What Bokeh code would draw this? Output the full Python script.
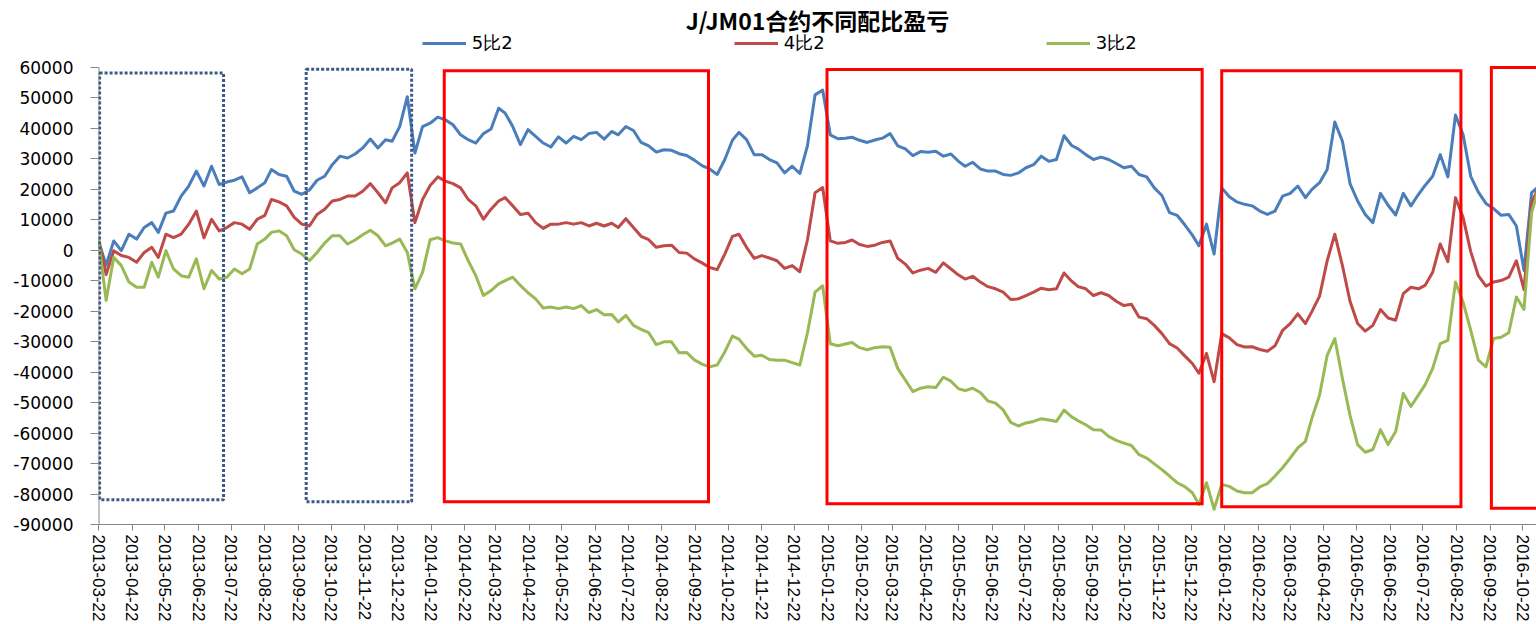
import pandas as pd
from bokeh.embed import file_html
from bokeh.models import (ColumnDataSource, DatetimeTickFormatter, FixedTicker,
                          Label, Legend, LegendItem, NumeralTickFormatter, Range1d)
from bokeh.plotting import figure
from bokeh.resources import INLINE

# ---- data -------------------------------------------------------------
start_date = "2013-03-22"

# sampling days, counted from start_date
day_offset = [
    0, 7, 14, 21, 28, 35, 42, 49, 55, 62,
    69, 76, 83, 90, 97, 104, 111, 118, 125, 132,
    139, 146, 153, 159, 166, 173, 180, 187, 194, 201,
    208, 215, 222, 229, 236, 243, 250, 257, 264, 270,
    277, 284, 291, 298, 305, 312, 319, 326, 333, 340,
    347, 354, 361, 368, 374, 381, 388, 395, 402, 409,
    416, 423, 430, 437, 444, 451, 458, 465, 472, 478,
    485, 492, 499, 506, 513, 520, 527, 534, 541, 548,
    555, 562, 569, 576, 583, 589, 596, 603, 610, 617,
    624, 631, 638, 645, 652, 659, 666, 673, 680, 687,
    693, 700, 707, 714, 721, 728, 735, 742, 749, 756,
    763, 770, 777, 784, 791, 797, 804, 811, 818, 825,
    832, 839, 846, 853, 860, 867, 874, 881, 888, 895,
    901, 908, 915, 922, 929, 936, 943, 950, 957, 964,
    971, 978, 985, 992, 999, 1006, 1012, 1019, 1026, 1033,
    1040, 1047, 1054, 1061, 1068, 1075, 1082, 1089, 1096, 1103,
    1110, 1116, 1123, 1130, 1137, 1144, 1151, 1158, 1165, 1172,
    1179, 1186, 1193, 1200, 1207, 1214, 1220, 1227, 1234, 1241,
    1248, 1255, 1262, 1269, 1276, 1283, 1290, 1297, 1304, 1311,
    1318, 1325,
]

# profit / loss of the 5:2 mix
pnl_5to2 = [
    3000, -5000, 3000, -200, 5200, 3600, 7400, 9000, 5800, 12100,
    12800, 17700, 21000, 25900, 21000, 27500, 21500, 22300, 22900, 24000,
    18800, 20400, 22100, 26400, 24800, 24200, 19300, 18300, 19700, 22900,
    24200, 28000, 30800, 30200, 31500, 33500, 36400, 33500, 36200, 35700,
    40500, 50300, 31800, 40500, 41600, 43600, 42700, 41100, 37800, 36200,
    35100, 38200, 39700, 46500, 44900, 40500, 34600, 39500, 37300, 35100,
    33800, 37100, 35100, 37300, 36200, 38200, 38600, 36400, 38900, 37800,
    40500, 39200, 35300, 34200, 32100, 32900, 32700, 31600, 31000, 29500,
    27700, 26600, 24800, 29700, 36000, 38600, 36200, 31300, 31300, 29700,
    28600, 25300, 27500, 25100, 34200, 50900, 52500, 37800, 36500, 36700,
    37000, 36000, 35300, 36100, 36700, 38200, 34200, 33200, 31000, 32300,
    32100, 32400, 30800, 31500, 29100, 27500, 28800, 26600, 25900, 25900,
    24800, 24500, 25300, 27000, 28000, 30800, 29100, 29700, 37500, 34300,
    33200, 31300, 29700, 30500, 29700, 28400, 27000, 27500, 24800, 24000,
    20400, 17900, 12300, 11400, 8300, 4900, 1400, 8500, -1300, 20400,
    17500, 15800, 15000, 14500, 12800, 11700, 12800, 17700, 18600, 21000,
    17200, 19900, 22100, 26400, 42000, 35700, 21800, 16100, 11700, 9000,
    18600, 14700, 11500, 18600, 14500, 18300, 21200, 24200, 31300, 24000,
    44300, 37800, 24200, 19000, 15300, 13600, 11400, 11700, 7900, -6700,
    18800, 21000,
]

# profit / loss of the 4:2 mix
pnl_4to2 = [
    3500, -8000, -200, -1800, -2400, -4000, -800, 900, -2400, 5200,
    4100, 5200, 8500, 12800, 4000, 10100, 6300, 7400, 9000, 8500,
    6800, 10100, 11400, 16600, 15800, 14500, 10700, 8500, 7900, 11700,
    13400, 16100, 16600, 17700, 17700, 19300, 21800, 18800, 15500, 20400,
    22100, 25300, 9000, 16600, 21200, 24000, 22600, 21800, 20400, 16600,
    14500, 10100, 13400, 16100, 17200, 14500, 11700, 12100, 9000, 7100,
    8500, 8500, 9000, 8500, 9000, 7900, 8800, 7900, 8800, 7400,
    10300, 7400, 4500, 3400, 900, 1400, 1600, -800, -1000, -2900,
    -4200, -5700, -6400, -1300, 4500, 5200, 900, -2700, -1800, -2600,
    -3500, -6000, -5100, -7100, 3300, 18800, 20500, 3000, 2200, 2500,
    3300, 1800, 1200, 1600, 2500, 3000, -2700, -4600, -7500, -6600,
    -6000, -7300, -4200, -6200, -8200, -9500, -8600, -10500, -12000, -12700,
    -13800, -16200, -16000, -14900, -13800, -12500, -13000, -12700, -7500, -10200,
    -12000, -12700, -14900, -14000, -14900, -16800, -18200, -17800, -22000, -22500,
    -24700, -27400, -30700, -32100, -34700, -37200, -40400, -33900, -43200, -27400,
    -28800, -31000, -31800, -31700, -32600, -33200, -31400, -26300, -24100, -20900,
    -24100, -20100, -15100, -3500, 5200, -5100, -16800, -24100, -26600, -24700,
    -19500, -22300, -23000, -14300, -12200, -12700, -11600, -7300, 2000, -3800,
    17200, 10700, -500, -8400, -11800, -10500, -10000, -8900, -3500, -13000,
    15500, 21000,
]

# profit / loss of the 3:2 mix
pnl_3to2 = [
    3500, -16500, -2400, -5100, -10500, -12200, -12200, -4000, -8900, -200,
    -6200, -8400, -8900, -2900, -12700, -6700, -9500, -8900, -6200, -7800,
    -6200, 2000, 3600, 5800, 6300, 4700, 100, -1300, -3500, -800,
    2300, 4700, 4700, 2000, 3300, 5000, 6500, 4700, 1400, 2300,
    3600, -800, -12700, -7300, 3400, 4100, 3000, 2300, 2000, -3500,
    -8400, -14900, -13300, -11100, -10000, -8900, -11600, -14000, -16000, -19000,
    -18700, -19200, -18700, -19200, -18200, -20500, -19500, -21200, -21100, -23600,
    -21400, -24700, -26000, -27100, -31000, -30100, -30100, -33700, -33600, -36000,
    -37400, -38300, -37700, -33400, -28200, -29200, -32300, -34800, -34500, -35900,
    -36100, -36100, -36900, -37700, -27200, -13800, -11700, -30700, -31400, -30800,
    -30300, -32000, -32700, -32000, -31700, -31900, -38800, -42600, -46400, -45300,
    -44800, -45100, -41700, -43000, -45500, -46100, -45300, -46700, -49500, -50200,
    -52400, -56500, -57700, -56700, -56200, -55300, -55700, -56200, -52500, -54700,
    -56000, -57300, -58900, -59000, -61100, -62400, -63300, -64100, -67100, -68200,
    -70100, -72000, -74100, -76300, -77600, -79600, -83400, -76300, -85000, -76900,
    -77500, -79000, -79600, -79600, -77700, -76600, -74100, -71400, -68200, -64900,
    -62700, -55100, -47500, -34500, -29000, -42100, -54200, -63800, -66300, -65400,
    -58900, -63800, -59500, -47000, -51300, -47500, -44200, -38800, -30700, -29600,
    -10500, -17100, -26300, -36100, -38300, -29000, -28600, -27100, -15400, -19500,
    12300, 21000,
]

chart_title = "J/JM01合约不同配比盈亏"
series_labels = ["5比2", "4比2", "3比2"]
series_colors = ["#4A7EBB", "#BE4B48", "#98B954"]

month_ticks = [
    "2013-03-22", "2013-04-22", "2013-05-22", "2013-06-22", "2013-07-22",
    "2013-08-22", "2013-09-22", "2013-10-22", "2013-11-22", "2013-12-22",
    "2014-01-22", "2014-02-22", "2014-03-22", "2014-04-22", "2014-05-22",
    "2014-06-22", "2014-07-22", "2014-08-22", "2014-09-22", "2014-10-22",
    "2014-11-22", "2014-12-22", "2015-01-22", "2015-02-22", "2015-03-22",
    "2015-04-22", "2015-05-22", "2015-06-22", "2015-07-22", "2015-08-22",
    "2015-09-22", "2015-10-22", "2015-11-22", "2015-12-22", "2016-01-22",
    "2016-02-22", "2016-03-22", "2016-04-22", "2016-05-22", "2016-06-22",
    "2016-07-22", "2016-08-22", "2016-09-22", "2016-10-22",
]
y_ticks = [-90000, -80000, -70000, -60000, -50000, -40000, -30000, -20000,
           -10000, 0, 10000, 20000, 30000, 40000, 50000, 60000]
y_min, y_max = -90000, 60000

# highlighted periods: dotted (early phase) and solid boxes
dotted_left = ["2013-03-23", "2013-09-29"]
dotted_right = ["2013-07-15", "2014-01-04"]
dotted_top = [58100, 59300]
dotted_bottom = [-81900, -82500]

solid_left = ["2014-02-03", "2015-01-21", "2016-01-19", "2016-09-23"]
solid_right = ["2014-10-04", "2016-01-01", "2016-08-26", "2016-12-31"]
solid_top = [58800, 59200, 58800, 59900]
solid_bottom = [-82500, -83200, -84200, -84700]

# ---- figure -----------------------------------------------------------
W, H = 1536, 624
FRAME_LEFT, AXIS_TOP, FRAME_BOTTOM = 98, 67, 527

dates = pd.Timestamp(start_date) + pd.to_timedelta(day_offset, unit="D")
src = ColumnDataSource(dict(date=dates, p52=pnl_5to2, p42=pnl_4to2, p32=pnl_3to2))

x_start = pd.Timestamp("2013-03-22").to_pydatetime()
x_end = pd.Timestamp("2016-11-03 12:00").to_pydatetime()

# the frame reaches the top of the canvas so the title and legend sit inside it;
# the value scale is chosen so that y_max lands AXIS_TOP pixels below the top
per_px = (y_max - y_min) / (FRAME_BOTTOM - AXIS_TOP)
y_top = y_max + AXIS_TOP * per_px

p = figure(
    width=W, height=H,
    x_axis_type="datetime",
    x_range=Range1d(x_start, x_end),
    y_range=Range1d(y_min, y_top),
    output_backend="svg", toolbar_location=None,
    min_border_left=FRAME_LEFT, min_border_right=0,
    min_border_top=0, min_border_bottom=H - FRAME_BOTTOM,
)
p.background_fill_color = "white"
p.border_fill_color = "white"
p.outline_line_color = None
p.grid.visible = False

axis_grey = "#868686"

# value axis line only over the labelled span
p.segment(x0=[x_start], y0=[y_min], x1=[x_start], y1=[y_max],
          line_color=axis_grey, line_width=2)

renderers = []
for col, color in zip(["p52", "p42", "p32"], series_colors):
    r = p.line("date", col, source=src, line_color=color, line_width=3,
               line_join="round")
    renderers.append(r)

dotted_src = ColumnDataSource(dict(
    left=pd.to_datetime(dotted_left), right=pd.to_datetime(dotted_right),
    top=dotted_top, bottom=dotted_bottom))
p.quad(left="left", right="right", top="top", bottom="bottom", source=dotted_src,
       fill_color=None, line_color="#3D5A87", line_width=3, line_dash="3 2")

solid_src = ColumnDataSource(dict(
    left=pd.to_datetime(solid_left), right=pd.to_datetime(solid_right),
    top=solid_top, bottom=solid_bottom))
p.quad(left="left", right="right", top="top", bottom="bottom", source=solid_src,
       fill_color=None, line_color="#FF0000", line_width=3, line_join="miter")

# axes
tick_ms = [float(t) for t in (pd.to_datetime(month_ticks).astype("int64") // 10**6)]
xa = p.xaxis[0]
xa.ticker = FixedTicker(ticks=tick_ms)
fmt = "%Y-%m-%d"
xa.formatter = DatetimeTickFormatter(days=fmt, months=fmt, years=fmt, hours=fmt,
                                     hourmin=fmt, minutes=fmt)
xa.major_label_orientation = "vertical"
xa.major_label_text_font = "Liberation Sans"
xa.major_label_text_font_size = "17px"
xa.major_label_text_color = "#000000"
xa.major_label_standoff = 4
xa.major_tick_out = 6
xa.major_tick_in = 0
xa.minor_tick_line_color = None
xa.axis_line_color = axis_grey
xa.major_tick_line_color = axis_grey

ya = p.yaxis[0]
ya.ticker = FixedTicker(ticks=y_ticks)
ya.formatter = NumeralTickFormatter(format="0")
ya.major_label_text_font = "DejaVu Sans"
ya.major_label_text_font_size = "17px"
ya.major_label_text_color = "#000000"
ya.major_label_standoff = 17
ya.major_tick_out = 8
ya.major_tick_in = 0
ya.minor_tick_line_color = None
ya.axis_line_color = None
ya.major_tick_line_color = axis_grey

# legend row under the title (location = bottom-left corner, from frame bottom-left)
legend = Legend(
    items=[LegendItem(label=lab, renderers=[r]) for lab, r in zip(series_labels, renderers)],
    orientation="horizontal",
    location=(323.7, FRAME_BOTTOM - 58),
    glyph_width=44, glyph_height=20,
    label_width=262, label_height=20, label_standoff=6,
    spacing=0, padding=0, margin=0,
    border_line_color=None, background_fill_alpha=0,
    label_text_font="DejaVu Sans", label_text_font_size="18px",
    label_text_color="#000000",
)
p.add_layout(legend)

title = Label(x=817 - FRAME_LEFT, y=FRAME_BOTTOM - 22, x_units="screen", y_units="screen",
              text=chart_title, text_align="center", text_baseline="middle",
              text_font="Noto Sans CJK SC", text_font_size="23px",
              text_font_style="bold", text_color="#000000")
p.add_layout(title)

with open("out.html", "w") as f:
    f.write(file_html(p, INLINE))
